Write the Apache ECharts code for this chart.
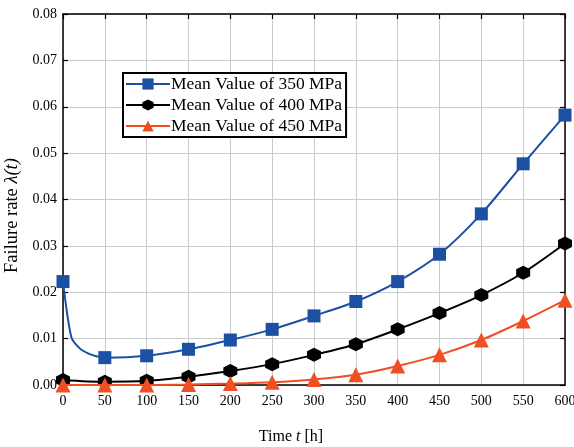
<!DOCTYPE html>
<html><head><meta charset="utf-8">
<script src="https://cdn.jsdelivr.net/npm/echarts@6/dist/echarts.min.js"></script>
<style>html,body{margin:0;padding:0;background:#fff}#c{width:574px;height:447px}</style>
</head><body><div id="c"></div>
<script>
const seriesNames = ['Mean Value of 350 MPa', 'Mean Value of 400 MPa', 'Mean Value of 450 MPa'];
const markedTimes = [0, 50, 100, 150, 200, 250, 300, 350, 400, 450, 500, 550, 600];
// blue curve includes a few unmarked points read near the start
const blueTimes = [0, 10, 20, 30, 40, 50, 100, 150, 200, 250, 300, 350, 400, 450, 500, 550, 600];
const blueValues = [0.0223, 0.0103, 0.0079, 0.0068, 0.0062, 0.0059, 0.0063, 0.0077, 0.0097, 0.0120, 0.0149, 0.0180, 0.0223, 0.0282, 0.0369, 0.0477, 0.0582];
const blackValues = [0.0011, 0.0007, 0.0009, 0.0018, 0.0030, 0.0045, 0.0065, 0.0088, 0.0120, 0.0155, 0.0194, 0.0242, 0.0305];
const redValues = [0.0000, 0.0000, 0.0000, 0.0001, 0.0003, 0.0006, 0.0012, 0.0022, 0.0041, 0.0065, 0.0097, 0.0138, 0.0183];

const colors = ['#1b50a3', '#000000', '#f04f24'];
const hexagon = 'path://M50,0 L93.3,25 L93.3,75 L50,100 L6.7,75 L6.7,25 Z';
const font = 'Liberation Serif';

const blueData = blueTimes.map((t, i) => markedTimes.includes(t) ? [t, blueValues[i]] : {value: [t, blueValues[i]], symbol: 'none'});
const blackData = markedTimes.map((t, i) => [t, blackValues[i]]);
const redData = markedTimes.map((t, i) => [t, redValues[i]]);

const chart = echarts.init(document.getElementById('c'));
const axisLine = {show: true, onZero: false, lineStyle: {color: '#000', width: 1.5}};
const tick = {show: true, inside: true, length: 5, lineStyle: {color: '#000', width: 1.2}};
const grid = {color: '#c8ccd0', width: 1};
chart.setOption({
  animation: false,
  textStyle: {fontFamily: font},
  grid: {left: 63, right: 9, top: 14, bottom: 62, outerBoundsMode: 'none', containLabel: false},
  legend: {
    left: 123, top: 73, orient: 'vertical', itemGap: 3, itemWidth: 44, itemHeight: 14,
    backgroundColor: '#fff', borderColor: '#000', borderWidth: 2, padding: [2, 4, 2, 2],
    textStyle: {fontFamily: font, fontSize: 17.5, color: '#000', padding: [0, 0, 0, -4]},
    data: seriesNames
  },
  xAxis: [{
    type: 'value', min: 0, max: 600, interval: 50,
    name: '{a|Time }{i|t}{a| [h]}', nameLocation: 'middle', nameGap: 44,
    nameTextStyle: {padding: [0, 46, 0, 0], rich: {a: {fontFamily: font, fontSize: 16, color: '#000'}, i: {fontFamily: font, fontSize: 16, fontStyle: 'italic', color: '#000'}}},
    axisLine: axisLine, axisTick: {show: false},
    axisLabel: {fontFamily: font, fontSize: 14, color: '#000', margin: 9},
    splitLine: {show: true, lineStyle: grid}
  }, {
    type: 'value', min: 0, max: 600, interval: 50, position: 'top',
    axisLine: axisLine, axisTick: tick,
    axisLabel: {show: false}, splitLine: {show: false}
  }],
  yAxis: [{
    type: 'value', min: 0, max: 0.08, interval: 0.01,
    name: '{a|Failure rate }{i|λ(t)}', nameLocation: 'middle', nameGap: 41,
    nameTextStyle: {padding: [0, 32, 0, 0], rich: {a: {fontFamily: font, fontSize: 18.5, color: '#000'}, i: {fontFamily: font, fontSize: 18.5, fontStyle: 'italic', color: '#000'}}},
    axisLine: axisLine, axisTick: tick,
    axisLabel: {fontFamily: font, fontSize: 14, color: '#000', margin: 6, formatter: v => v.toFixed(2)},
    splitLine: {show: true, lineStyle: grid}
  }, {
    type: 'value', min: 0, max: 0.08, interval: 0.01, position: 'right',
    axisLine: axisLine, axisTick: tick,
    axisLabel: {show: false}, splitLine: {show: false}
  }],
  series: [
    {name: seriesNames[0], type: 'line', data: blueData, smooth: 0.25, symbol: 'rect', symbolSize: 13,
     color: colors[0], lineStyle: {width: 2, color: colors[0]}, itemStyle: {color: colors[0]}, z: 5},
    {name: seriesNames[1], type: 'line', data: blackData, smooth: 0.3, symbol: hexagon, symbolSize: 14,
     color: colors[1], lineStyle: {width: 2, color: colors[1]}, itemStyle: {color: colors[1]}, z: 4},
    {name: seriesNames[2], type: 'line', data: redData, smooth: 0.3, symbol: 'triangle', symbolSize: 15,
     color: colors[2], lineStyle: {width: 2, color: colors[2]}, itemStyle: {color: colors[2]}, z: 6}
  ]
});
</script></body></html>
